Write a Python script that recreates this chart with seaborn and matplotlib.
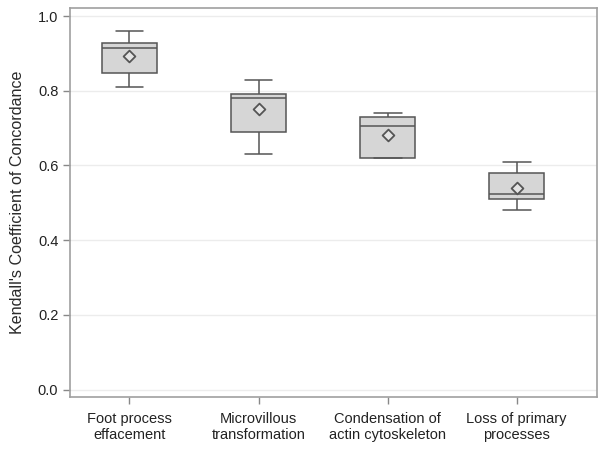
import pandas as pd
import seaborn as sns
import matplotlib.pyplot as plt

categories = ["Foot process\neffacement", "Microvillous\ntransformation",
              "Condensation of\nactin cytoskeleton", "Loss of primary\nprocesses"]
whisker_low = [0.81, 0.63, 0.62, 0.48]
q1 = [0.848, 0.69, 0.62, 0.51]
median = [0.914, 0.78, 0.705, 0.525]
q3 = [0.928, 0.79, 0.73, 0.58]
whisker_high = [0.96, 0.83, 0.74, 0.61]
means = [0.893, 0.752, 0.682, 0.541]
yticks = [0.0, 0.2, 0.4, 0.6, 0.8, 1.0]

# five summary values per group, so the box quartiles land on them exactly
rows = []
for i, cat in enumerate(categories):
    for v in (whisker_low[i], q1[i], median[i], q3[i], whisker_high[i]):
        rows.append({"group": cat, "value": v})
df = pd.DataFrame(rows)
mean_df = pd.DataFrame({"group": categories, "value": means})

sns.set_style("white")
plt.rcParams["font.family"] = ["Liberation Sans", "DejaVu Sans"]

fig = plt.figure(figsize=(6.04, 4.53), dpi=100)
ax = fig.add_axes([0.116, 0.124, 0.872, 0.858])

line = "#555555"
sns.boxplot(data=df, x="group", y="value", order=categories, whis=(0, 100),
            width=0.43, color="#d6d6d6", linewidth=1.1, ax=ax,
            boxprops=dict(edgecolor=line), whiskerprops=dict(color=line),
            capprops=dict(color=line), medianprops=dict(color=line),
            showfliers=False)
sns.scatterplot(data=mean_df, x="group", y="value", marker="D", s=36,
                facecolor="#e4e4e4", edgecolor=line, linewidth=1.3, ax=ax,
                zorder=5)

ax.set_xlim(-0.46, 3.62)
ax.set_ylim(-0.019, 1.021)
ax.set_yticks(yticks)
ax.set_yticklabels([f"{t:.1f}" for t in yticks])
ax.yaxis.grid(True, color="#ececec", linewidth=1)
ax.set_axisbelow(True)
ax.set_xlabel("")
ax.set_ylabel("Kendall's Coefficient of Concordance", fontsize=11.6,
              color="#2a2a2a")
ax.yaxis.set_label_coords(-0.085, 0.5)
ax.tick_params(axis="both", direction="out", length=5, width=1, color="#888888",
               labelsize=10.5, labelcolor="#222222", bottom=True, left=True)
ax.tick_params(axis="x", pad=6)
for s in ax.spines.values():
    s.set_color("#a0a0a0")
    s.set_linewidth(1.2)

fig.savefig("out.png", dpi=100)
